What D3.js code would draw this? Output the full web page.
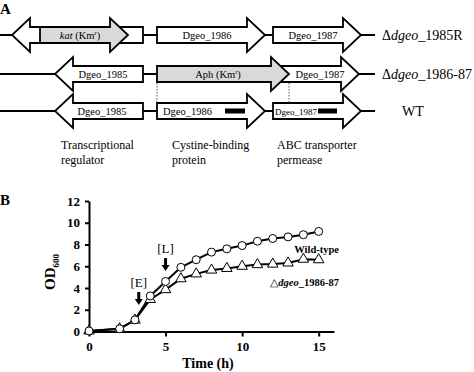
<!DOCTYPE html>
<html>
<head>
<meta charset="utf-8">
<script src="https://cdn.jsdelivr.net/npm/d3@7"></script>
<style>
  body { margin: 0; background: #fff; }
  svg { display: block; font-family: "Liberation Serif", "Times New Roman", serif; }
</style>
</head>
<body>
<svg id="fig" width="474" height="372"></svg>
<script>
// Panel B data: OD600 readings over time
const hours = [0, 2, 3, 4, 5, 6, 7, 8, 9, 10, 11, 12, 13, 14, 15];
const wildType = [0.05, 0.25, 1.07, 3.27, 4.6, 5.9, 6.6, 7.3, 7.6, 7.9, 8.3, 8.55, 8.7, 8.9, 9.2];
const mutant = [0.05, 0.25, 1.05, 2.95, 3.85, 4.85, 5.3, 5.65, 5.8, 6.0, 6.15, 6.2, 6.3, 6.65, 6.6];
const yTicks = [0, 2, 4, 6, 8, 10, 12];
const xTicks = [0, 5, 10, 15];
const phases = [{ label: "[E]", t: 3.25 }, { label: "[L]", t: 5 }];

// Panel A: gene map, one entry per drawn arrow (row, start, tip, label)
const strains = ["\u0394dgeo_1985R", "\u0394dgeo_1986-87", "WT"];
const genes = [
  { row: 0, from: 143, to: 12, label: "", grey: false },
  { row: 0, from: 40, to: 128, label: "kat", grey: true },
  { row: 0, from: 157, to: 265, label: "Dgeo_1986", grey: false },
  { row: 0, from: 273, to: 361, label: "Dgeo_1987", grey: false },
  { row: 1, from: 143, to: 55, label: "Dgeo_1985", grey: false },
  { row: 1, from: 276, to: 359, label: "Dgeo_1987", grey: false },
  { row: 1, from: 157, to: 289, label: "Aph", grey: true },
  { row: 2, from: 143, to: 55, label: "Dgeo_1985", grey: false },
  { row: 2, from: 157, to: 265, label: "Dgeo_1986", grey: false },
  { row: 2, from: 273, to: 361, label: "Dgeo_1987", grey: false }
];
const probes = [{ from: 225, to: 245 }, { from: 318, to: 337 }];
const functions = [
  { x: 61, lines: ["Transcriptional", "regulator"] },
  { x: 172, lines: ["Cystine-binding", "protein"] },
  { x: 277, lines: ["ABC transporter", "permease"] }
];

const svg = d3.select("#fig");
const rowY = d3.scaleOrdinal().domain([0, 1, 2]).range([35, 74, 111]);

// ---- Panel A ----
svg.append("text").attr("x", 0).attr("y", 14).attr("font-weight", "bold").attr("font-size", 15).text("A");

const gA = svg.append("g");
[0, 1, 2].forEach(r => {
  gA.append("line").attr("x1", 0).attr("x2", 375)
    .attr("y1", rowY(r)).attr("y2", rowY(r))
    .attr("stroke", "#000").attr("stroke-width", 2);
});

function arrowPath(d) {
  const cy = rowY(d.row), bh = 8, hh = 17;
  const dir = d.to > d.from ? 1 : -1;
  const hl = 18 * dir;
  const b = d.to - hl;
  return `M${d.from},${cy - bh}L${b},${cy - bh}L${b},${cy - hh}L${d.to},${cy}` +
    `L${b},${cy + hh}L${b},${cy + bh}L${d.from},${cy + bh}Z`;
}

gA.selectAll("path.gene").data(genes).enter().append("path")
  .attr("class", "gene")
  .attr("d", arrowPath)
  .attr("fill", d => d.grey ? "#d9d9d9" : "#fff")
  .attr("stroke", "#000").attr("stroke-width", 1.8)
  .attr("stroke-linejoin", "miter");

// dotted deletion boundaries
[157, 289].forEach(x => {
  gA.append("line").attr("x1", x).attr("x2", x).attr("y1", 83).attr("y2", 103)
    .attr("stroke", "#555").attr("stroke-width", 1).attr("stroke-dasharray", "1.5,1.5");
});

// probe bars
gA.selectAll("rect.probe").data(probes).enter().append("rect")
  .attr("x", d => d.from).attr("width", d => d.to - d.from)
  .attr("y", rowY(2) - 2.5).attr("height", 5).attr("fill", "#000");

// gene labels
function geneLabel(row, x, anchor, size) {
  return gA.append("text").attr("x", x).attr("y", rowY(row) + 3.5)
    .attr("text-anchor", anchor).attr("font-size", size);
}
let t = geneLabel(0, 80, "middle", 10.5);
t.append("tspan").attr("font-style", "italic").text("kat");
t.append("tspan").text(" (Km");
t.append("tspan").attr("font-size", 6.5).attr("dy", -4).text("r");
t.append("tspan").attr("dy", 4).text(")");
geneLabel(0, 207, "middle", 10.5).text("Dgeo_1986");
geneLabel(0, 313, "middle", 10.5).text("Dgeo_1987");
geneLabel(1, 103, "middle", 10.5).text("Dgeo_1985");
t = geneLabel(1, 218, "middle", 10.5);
t.append("tspan").text("Aph (Km");
t.append("tspan").attr("font-size", 6.5).attr("dy", -4).text("r");
t.append("tspan").attr("dy", 4).text(")");
geneLabel(1, 320, "middle", 10.5).text("Dgeo_1987");
geneLabel(2, 102, "middle", 10.5).text("Dgeo_1985");
geneLabel(2, 163, "start", 10.5).text("Dgeo_1986");
geneLabel(2, 275, "start", 9).text("Dgeo_1987");

// strain names
strains.forEach((s, i) => {
  const txt = gA.append("text").attr("y", rowY(i) + 5).attr("font-size", 14);
  if (s === "WT") {
    txt.attr("x", 402).text(s);
  } else {
    txt.attr("x", 382);
    txt.append("tspan").text("\u0394");
    txt.append("tspan").attr("font-style", "italic").text("dgeo");
    txt.append("tspan").text(s.slice(5));
  }
});

// function labels
functions.forEach(f => {
  const txt = gA.append("text").attr("font-size", 12);
  f.lines.forEach((l, i) => {
    txt.append("tspan").attr("x", f.x).attr("y", 149 + i * 15).text(l);
  });
});

// ---- Panel B ----
svg.append("text").attr("x", 0).attr("y", 205).attr("font-weight", "bold").attr("font-size", 15).text("B");

const x = d3.scaleLinear().domain([0, 16]).range([89, 334]);
const y = d3.scaleLinear().domain([0, 12]).range([331.5, 201]);

const gB = svg.append("g");

const yAxis = gB.append("g").attr("transform", `translate(${x(0)},0)`)
  .call(d3.axisLeft(y).tickValues(yTicks).tickSize(4).tickSizeOuter(0).tickPadding(5));
const xAxis = gB.append("g").attr("transform", `translate(0,${y(0)})`)
  .call(d3.axisBottom(x).tickValues(xTicks).tickSize(5).tickSizeOuter(0).tickPadding(5));
[yAxis, xAxis].forEach(a => {
  a.select(".domain").attr("stroke-width", 2);
  a.selectAll(".tick line").attr("stroke-width", 2);
  a.selectAll("text").attr("font-family", "Liberation Serif").attr("font-weight", "bold")
    .attr("font-size", 13).attr("fill", "#000");
});

const line = d3.line().x((d, i) => x(hours[i])).y(d => y(d));
[mutant, wildType].forEach(series => {
  gB.append("path").datum(series).attr("d", line)
    .attr("fill", "none").attr("stroke", "#000").attr("stroke-width", 2);
});

gB.selectAll("path.tri").data(mutant).enter().append("path")
  .attr("class", "tri")
  .attr("d", d3.symbol().type(d3.symbolTriangle).size(48))
  .attr("transform", (d, i) => `translate(${x(hours[i])},${y(d)})`)
  .attr("fill", "#fff").attr("stroke", "#000").attr("stroke-width", 1);

gB.selectAll("circle.wt").data(wildType).enter().append("circle")
  .attr("class", "wt")
  .attr("cx", (d, i) => x(hours[i])).attr("cy", d => y(d)).attr("r", 4)
  .attr("fill", "#fff").attr("stroke", "#000").attr("stroke-width", 1);

// phase arrows
const phaseTop = { "[E]": 292, "[L]": 258 };
phases.forEach(p => {
  const px = x(p.t), top = phaseTop[p.label];
  gB.append("text").attr("x", px).attr("y", top - 5).attr("text-anchor", "middle")
    .attr("font-size", 13).text(p.label);
  gB.append("line").attr("x1", px).attr("x2", px).attr("y1", top).attr("y2", top + 8)
    .attr("stroke", "#000").attr("stroke-width", 3);
  gB.append("path")
    .attr("d", `M${px - 4},${top + 7}L${px + 4},${top + 7}L${px},${top + 13}Z`)
    .attr("fill", "#000");
});

// legend labels
gB.append("text").attr("x", 339).attr("y", 253).attr("text-anchor", "end")
  .attr("font-weight", "bold").attr("font-size", 10.5).text("Wild-type");
const lg = gB.append("text").attr("x", 339).attr("y", 286).attr("text-anchor", "end")
  .attr("font-weight", "bold").attr("font-size", 10.5);
lg.append("tspan").attr("font-weight", "normal").text("\u25B3");
lg.append("tspan").attr("font-style", "italic").text("dgeo");
lg.append("tspan").text("_1986-87");

// axis titles
const yl = gB.append("text").attr("transform", "translate(55,272) rotate(-90)")
  .attr("text-anchor", "middle").attr("font-weight", "bold").attr("font-size", 15);
yl.append("tspan").text("OD");
yl.append("tspan").attr("font-size", 9).attr("dy", 4).text("600");

gB.append("text").attr("x", 208).attr("y", 368).attr("text-anchor", "middle")
  .attr("font-weight", "bold").attr("font-size", 14).text("Time (h)");
</script>
</body>
</html>
